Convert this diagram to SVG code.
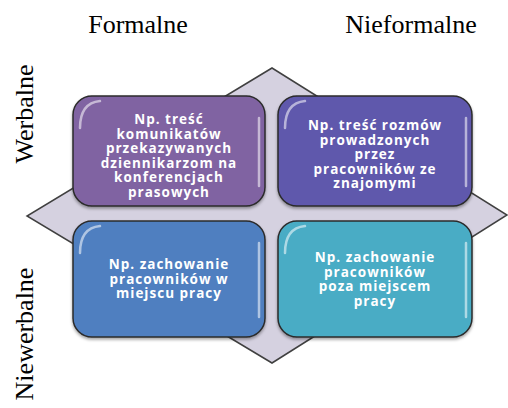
<svg xmlns="http://www.w3.org/2000/svg" width="508" height="408" viewBox="0 0 508 408">
<style>
.hdr{font-family:"Liberation Serif","Times New Roman",serif;font-size:26px;fill:#000}
.box{stroke:#2b2b2b;stroke-width:1.5}
.lbl{font-family:"Open Sans","DejaVu Sans",sans-serif;font-weight:bold;font-size:13.5px;fill:#fff;text-anchor:middle;letter-spacing:1px}
.hl{fill:none;stroke:#fff;stroke-opacity:0.55;stroke-width:2.5;stroke-linecap:round}
</style>
<defs>
<filter id="sh" x="-10%" y="-10%" width="120%" height="130%">
<feDropShadow dx="0" dy="2" stdDeviation="1.5" flood-color="#000" flood-opacity="0.35"/>
</filter>
</defs>
<rect width="508" height="408" fill="#fff"/>
<g id="background">
<polygon points="272,68 507,215 272,363 27,216" fill="#D5D1E0" stroke="#404040" stroke-width="1.5"/>
</g>
<g id="headers">
<text class="hdr" x="138" y="33" text-anchor="middle">Formalne</text>
<text class="hdr" x="411" y="33" text-anchor="middle">Nieformalne</text>
<text class="hdr" transform="translate(33,114) rotate(-90)" text-anchor="middle">Werbalne</text>
<text class="hdr" transform="translate(33,334) rotate(-90)" text-anchor="middle">Niewerbalne</text>
</g>
<g id="connectors"></g>
<g id="n1">
<rect class="box" x="73" y="96" width="192" height="110" rx="19" fill="#8064A2" filter="url(#sh)"/>
<path class="hl" d="M80,128 Q80,103 100,101"/>
<path class="hl" d="M259,118 L259,186" stroke-opacity="0.35"/>
<text class="lbl"><tspan x="169" y="124">Np. treść</tspan><tspan x="169" y="138.5">komunikatów</tspan><tspan x="169" y="153">przekazywanych</tspan><tspan x="169" y="167.5">dziennikarzom na</tspan><tspan x="169" y="182">konferencjach</tspan><tspan x="169" y="196.5">prasowych</tspan></text>
</g>
<g id="n2">
<rect class="box" x="278" y="96" width="194" height="110" rx="19" fill="#5E58AC" filter="url(#sh)"/>
<path class="hl" d="M285,128 Q285,103 305,101"/>
<path class="hl" d="M466,118 L466,186" stroke-opacity="0.35"/>
<text class="lbl"><tspan x="375" y="130">Np. treść rozmów</tspan><tspan x="375" y="144.5">prowadzonych</tspan><tspan x="375" y="159">przez</tspan><tspan x="375" y="173.5">pracowników ze</tspan><tspan x="375" y="188">znajomymi</tspan></text>
</g>
<g id="n3">
<rect class="box" x="73" y="221" width="192" height="116" rx="19" fill="#4F7FC0" filter="url(#sh)"/>
<path class="hl" d="M80,253 Q80,228 100,226"/>
<path class="hl" d="M259,243 L259,317" stroke-opacity="0.35"/>
<text class="lbl"><tspan x="169" y="269">Np. zachowanie</tspan><tspan x="169" y="283.5">pracowników w</tspan><tspan x="169" y="298">miejscu pracy</tspan></text>
</g>
<g id="n4">
<rect class="box" x="278" y="221" width="194" height="116" rx="19" fill="#4AACC5" filter="url(#sh)"/>
<path class="hl" d="M285,253 Q285,228 305,226"/>
<path class="hl" d="M466,243 L466,317" stroke-opacity="0.5"/>
<text class="lbl"><tspan x="375" y="262">Np. zachowanie</tspan><tspan x="375" y="276.5">pracowników</tspan><tspan x="375" y="291">poza miejscem</tspan><tspan x="375" y="305.5">pracy</tspan></text>
</g>
</svg>
